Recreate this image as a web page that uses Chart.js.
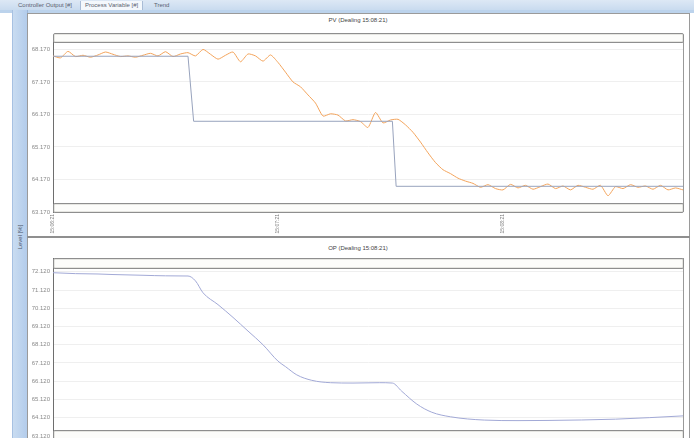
<!DOCTYPE html>
<html>
<head>
<meta charset="utf-8">
<script src="https://cdn.jsdelivr.net/npm/chart.js@4.4.1/dist/chart.umd.min.js"></script>
<style>
  html, body { margin:0; padding:0; width:694px; height:438px; overflow:hidden; background:#ffffff; font-family:"Liberation Sans", Arial, sans-serif; }
  .abs { position:absolute; }
  .tabs { left:0; top:0; width:694px; height:10px; background:linear-gradient(#dde8f5,#c9dbef); }
  .tab { top:1px; height:9px; font-size:6px; line-height:9px; color:#5a6170; padding:0 4px; }
  .band { left:0; top:10px; width:694px; height:3px; background:#bcd3ec; }
  .strip { left:12px; top:10px; width:14px; height:428px; background:linear-gradient(90deg,#c9dcf1,#b3cceb); border-left:1px solid #a7c1e2; border-right:1px solid #9ab6da; }
  .panel { background:#ffffff; border-left:1px solid #9a9a9a; border-right:1px solid #9a9a9a; }
  .title { font-size:6px; color:#444; text-align:center; width:200px; }
  .box { border:1px solid #8e8e8e; border-radius:2px; background:#fcfcfa; box-sizing:border-box; box-shadow: inset 0 0 0 1px #e6e6e2; }
</style>
</head>
<body>
<script>
// ---------------- DATA ----------------
const X_TICK_VALUES = [0, 60, 120];                 // seconds from start
const X_TICK_LABELS = ['15:06:21', '15:07:21', '15:08:21'];

const PV_TICK_VALUES = [63.17, 64.17, 65.17, 66.17, 67.17, 68.17];
const PV_TICK_LABELS = ['63.170', '64.170', '65.170', '66.170', '67.170', '68.170'];

const OP_TICK_VALUES = [63.12, 64.12, 65.12, 66.12, 67.12, 68.12, 69.12, 70.12, 71.12, 72.12];
const OP_TICK_LABELS = ['63.120', '64.120', '65.120', '66.120', '67.120', '68.120', '69.120', '70.120', '71.120', '72.120'];

// PV (process variable) sampled every 2 s
const PV_TIME = [0,2,4,6,8,10,12,14,16,18,20,22,24,26,28,30,32,34,36,38,40,42,44,46,48,50,52,54,56,58,
  60,62,64,66,68,70,72,74,76,78,80,82,84,86,88,90,92,94,96,98,100,102,104,106,108,110,112,114,116,118,
  120,122,124,126,128,130,132,134,136,138,140,142,144,146,148,150,152,154,156,158,160,162,164,166,168];
const PV_VALUES = [67.97,67.91,68.11,67.95,67.99,67.93,68.00,68.09,68.02,67.95,67.97,67.93,67.99,68.05,67.97,68.10,67.95,68.03,68.07,67.97,
  68.17,68.02,67.87,67.99,68.09,67.79,68.03,67.97,67.81,68.00,67.77,67.47,67.17,67.02,66.77,66.52,66.12,66.19,66.15,65.97,
  66.01,65.95,65.77,66.23,65.91,66.00,66.02,65.85,65.62,65.32,64.99,64.69,64.47,64.35,64.21,64.12,64.05,63.93,64.01,63.89,
  63.85,64.02,63.91,63.99,63.87,63.95,64.03,63.89,63.97,63.85,63.99,63.93,63.87,63.99,63.67,63.95,63.89,64.01,63.93,63.97,
  63.87,63.99,63.85,63.91,63.85];

// SP (set point)
const SP_TIME   = [0, 36, 37.5, 90.5, 91.5, 168];
const SP_VALUES = [67.96, 67.96, 65.96, 65.96, 63.96, 63.96];

// OP (controller output)
const OP_TIME   = [0, 6, 12, 16, 24, 30, 36, 38, 40, 44, 48, 52, 56, 60, 62, 65, 69, 74, 80, 87, 90.5, 93, 97, 101, 106, 115, 124, 132, 150, 168];
const OP_VALUES = [72.07,72.02,72.00,71.97,71.93,71.90,71.89,71.62,70.97,70.32,69.62,68.87,68.12,67.22,66.92,66.47,66.17,66.04,66.02,66.04,66.02,65.57,64.87,64.42,64.17,63.99,63.96,63.97,64.04,64.22];

// --------------- LAYOUT ----------------
function el(cls, style, text) {
  const d = document.createElement('div');
  d.className = 'abs ' + cls;
  Object.assign(d.style, style);
  if (text) d.textContent = text;
  document.body.appendChild(d);
  return d;
}
el('tabs', {});
el('tab', {left:'14px'}, 'Controller Output [#]');
el('tab', {left:'80px', background:'#f4f8fc', borderLeft:'1px solid #a9bcd6', borderRight:'1px solid #a9bcd6'}, 'Process Variable [#]');
el('tab', {left:'150px'}, 'Trend');
el('band', {});
el('strip', {});
el('panel', {left:'27px', top:'13px', width:'661px', height:'223px', borderTop:'1px solid #9a9a9a'});
el('', {left:'27px', top:'236px', width:'663px', height:'2px', background:'#8f8f8f'});
el('panel', {left:'27px', top:'238px', width:'661px', height:'202px'});
el('', {left:'-2px', top:'232px', width:'44px', height:'10px', fontSize:'6px', lineHeight:'10px', color:'#4a5568', textAlign:'center', transform:'rotate(-90deg)'}, 'Level [%]');

el('title', {left:'258px', top:'17px'}, 'PV (Dealing 15:08:21)');
el('title', {left:'258px', top:'245px'}, 'OP (Dealing 15:08:21)');

function addCanvas(left, top, w, h) {
  const wrap = el('', {left:left+'px', top:top+'px', width:w+'px', height:h+'px'});
  const c = document.createElement('canvas');
  c.width = w; c.height = h;
  c.style.width = w + 'px'; c.style.height = h + 'px';
  wrap.appendChild(c);
  return c;
}

const borderPlugin = {
  id: 'frameLines',
  afterDraw(chart) {
    const a = chart.chartArea, ctx = chart.ctx;
    ctx.save();
    ctx.strokeStyle = '#9a9a9a';
    ctx.lineWidth = 1;
    ctx.beginPath();
    ctx.moveTo(Math.round(a.right) + 0.5, a.top);
    ctx.lineTo(Math.round(a.right) + 0.5, a.bottom);
    ctx.stroke();
    ctx.restore();
  }
};

function yScale(min, max, tickValues, tickLabels) {
  return {
    min, max,
    afterFit(s) { s.width = 23; },
    afterBuildTicks(s) { s.ticks = tickValues.map(v => ({ value: v })); },
    ticks: {
      font: { size: 6, family: 'Liberation Sans' },
      color: '#8a8a8a',
      padding: 3,
      callback: (v, i) => tickLabels[i]
    },
    grid: { color: '#efefef', drawTicks: false },
    border: { display: true, color: '#6e6e6e', width: 1 }
  };
}

function pts(xs, ys) { return xs.map((x, i) => ({ x, y: ys[i] })); }

// Top chart (PV + SP)
new Chart(addCanvas(30, 30, 660, 216), {
  type: 'line',
  data: {
    datasets: [
      { label: 'SP', data: pts(SP_TIME, SP_VALUES), borderColor: '#98a3bd', borderWidth: 1, pointRadius: 0, tension: 0 },
      { label: 'PV', data: pts(PV_TIME, PV_VALUES), borderColor: '#f3a45c', borderWidth: 1, pointRadius: 0, tension: 0.2 }
    ]
  },
  options: {
    responsive: false, animation: false, devicePixelRatio: 1,
    layout: { padding: { top: 4, right: 7, left: 0, bottom: 0 } },
    plugins: { legend: { display: false }, tooltip: { enabled: false }, title: { display: false } },
    scales: {
      x: {
        type: 'linear', min: 0, max: 168,
        afterFit(s) { s.height = 34; },
        afterBuildTicks(s) { s.ticks = X_TICK_VALUES.map(v => ({ value: v })); },
        ticks: {
          font: { size: 5, family: 'Liberation Sans' }, color: '#7a7a7a',
          minRotation: 90, maxRotation: 90, padding: 2, autoSkip: false,
          callback: (v, i) => X_TICK_LABELS[i]
        },
        grid: { display: false, drawTicks: false },
        border: { display: false }
      },
      y: yScale(63.17, 68.564, PV_TICK_VALUES, PV_TICK_LABELS)
    }
  },
  plugins: [borderPlugin]
});

// Bottom chart (OP)
new Chart(addCanvas(30, 240, 660, 204), {
  type: 'line',
  data: {
    datasets: [
      { label: 'OP', data: pts(OP_TIME, OP_VALUES), borderColor: '#a2a9d6', borderWidth: 1, pointRadius: 0, cubicInterpolationMode: 'monotone' }
    ]
  },
  options: {
    responsive: false, animation: false, devicePixelRatio: 1,
    layout: { padding: { top: 18, right: 7, left: 0, bottom: 4 } },
    plugins: { legend: { display: false }, tooltip: { enabled: false }, title: { display: false } },
    scales: {
      x: { type: 'linear', min: 0, max: 168, display: false },
      y: yScale(63.04, 72.877, OP_TICK_VALUES, OP_TICK_LABELS)
    }
  },
  plugins: [borderPlugin]
});

// overlay bars (empty header / footer strips of each plot)
el('box', {left:'53px', top:'33px', width:'631px', height:'10px'});
el('box', {left:'53px', top:'203px', width:'631px', height:'10px'});
el('box', {left:'53px', top:'258px', width:'631px', height:'11px'});
el('box', {left:'53px', top:'430px', width:'631px', height:'10px'});
</script>
</body>
</html>
